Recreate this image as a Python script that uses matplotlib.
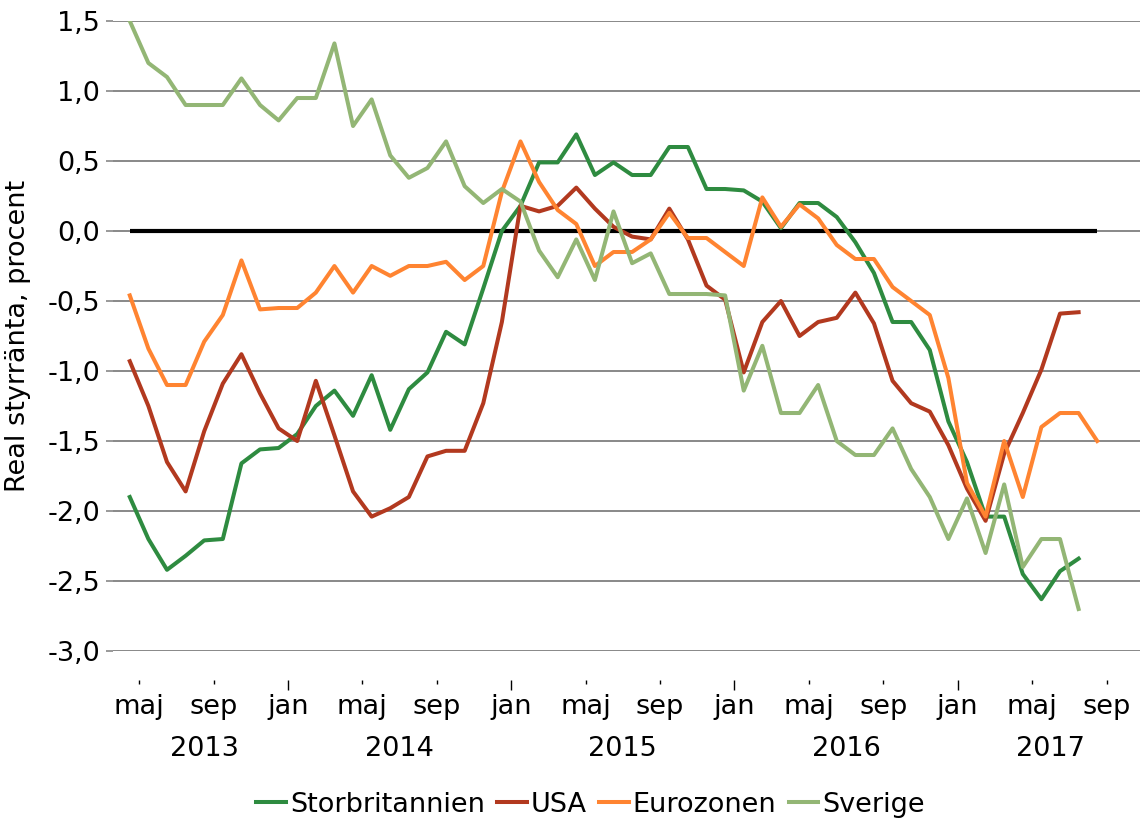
import numpy as np
import matplotlib
matplotlib.use("Agg")
import matplotlib.pyplot as plt

# månadsdata, april 2013 - augusti 2017
storbritannien = [-1.90, -2.20, -2.42, -2.32, -2.21, -2.20, -1.66, -1.56, -1.55, -1.45,
                  -1.25, -1.14, -1.32, -1.03, -1.42, -1.13, -1.01, -0.72, -0.81, -0.41,
                  0.00, 0.18, 0.49, 0.49, 0.69, 0.40, 0.49, 0.40, 0.40, 0.60,
                  0.60, 0.30, 0.30, 0.29, 0.21, 0.02, 0.20, 0.20, 0.10, -0.08,
                  -0.30, -0.65, -0.65, -0.85, -1.36, -1.65, -2.04, -2.04, -2.45, -2.63,
                  -2.43, -2.34]
usa = [-0.93, -1.25, -1.65, -1.86, -1.43, -1.09, -0.88, -1.16, -1.41, -1.50,
       -1.07, -1.46, -1.86, -2.04, -1.98, -1.90, -1.61, -1.57, -1.57, -1.23,
       -0.65, 0.18, 0.14, 0.18, 0.31, 0.16, 0.03, -0.04, -0.06, 0.16,
       -0.06, -0.39, -0.49, -1.01, -0.65, -0.50, -0.75, -0.65, -0.62, -0.44,
       -0.66, -1.07, -1.23, -1.29, -1.53, -1.84, -2.07, -1.59, -1.30, -0.99,
       -0.59, -0.58]
eurozonen = [-0.46, -0.84, -1.10, -1.10, -0.79, -0.60, -0.21, -0.56, -0.55, -0.55,
             -0.44, -0.25, -0.44, -0.25, -0.32, -0.25, -0.25, -0.22, -0.35, -0.25,
             0.28, 0.64, 0.35, 0.15, 0.05, -0.25, -0.15, -0.15, -0.06, 0.13,
             -0.05, -0.05, -0.15, -0.25, 0.24, 0.03, 0.19, 0.09, -0.10, -0.20,
             -0.20, -0.40, -0.50, -0.60, -1.05, -1.80, -2.04, -1.50, -1.90, -1.40,
             -1.30, -1.30, -1.50]
sverige = [1.50, 1.20, 1.10, 0.90, 0.90, 0.90, 1.09, 0.90, 0.79, 0.95,
           0.95, 1.34, 0.75, 0.94, 0.54, 0.38, 0.45, 0.64, 0.32, 0.20,
           0.30, 0.21, -0.14, -0.33, -0.06, -0.35, 0.14, -0.23, -0.16, -0.45,
           -0.45, -0.45, -0.46, -1.14, -0.82, -1.30, -1.30, -1.10, -1.50, -1.60,
           -1.60, -1.41, -1.70, -1.90, -2.20, -1.91, -2.30, -1.81, -2.40, -2.20,
           -2.20, -2.70]

manad_etiketter = ["maj", "sep", "jan"] * 4 + ["maj", "sep"]
ar = ["2013", "2014", "2015", "2016", "2017"]
ar_pos = [4.0, 14.5, 26.5, 38.5, 49.5]

plt.rcParams['font.family'] = ['DejaVu Sans']

fig = plt.figure(figsize=(11.4, 8.27), dpi=100)
ax = fig.add_axes([0.099, 0.2128, 0.901, 0.7618])

serier = [("Storbritannien", storbritannien, "#2e8b40"),
          ("USA", usa, "#b2391f"),
          ("Eurozonen", eurozonen, "#ff8431"),
          ("Sverige", sverige, "#93b675")]

ax.hlines(0, 0, len(eurozonen) - 1, color="black", lw=3, zorder=2)
for namn, v, farg in serier:
    ax.plot(np.arange(len(v)), v, color=farg, lw=2.9, label=namn, zorder=3)

ax.set_ylim(-3, 1.5)
ax.set_xlim(-0.91, 54.3)
yt = np.arange(-3, 1.51, 0.5)
ax.set_yticks(yt)
ax.set_yticklabels([f"{t:.1f}".replace(".", ",") for t in yt])
ax.grid(axis="y", color="#888888", lw=1.4)
ax.set_axisbelow(True)
for s in ax.spines.values():
    s.set_visible(False)

ax.tick_params(axis="y", length=5, color="#888888", width=1.2, labelsize=19.5, pad=4)

ax.spines['bottom'].set_position(('outward', 21))
ax.set_xticks(np.arange(len(manad_etiketter)) * 4 + 0.5)
ax.set_xticklabels(manad_etiketter)
ax.tick_params(axis="x", which="major", length=3, width=1, labelsize=19.5, pad=7)
for i, t in enumerate(ax.xaxis.get_major_ticks()):
    if manad_etiketter[i] == "jan":
        t.tick1line.set_markersize(7)
ax.set_xticks(ar_pos, minor=True)
ax.set_xticklabels(ar, minor=True)
ax.tick_params(axis="x", which="minor", length=0, labelsize=19.5, pad=40)

ax.set_ylabel("Real styrränta, procent", fontsize=19.5, labelpad=12)

leg = fig.legend(loc="center", bbox_to_anchor=(0.518, 0.027), ncol=4, frameon=False,
                 fontsize=19.5, handlelength=1.1, handletextpad=0.15, columnspacing=0.45)

fig.savefig("out.png", dpi=100)
